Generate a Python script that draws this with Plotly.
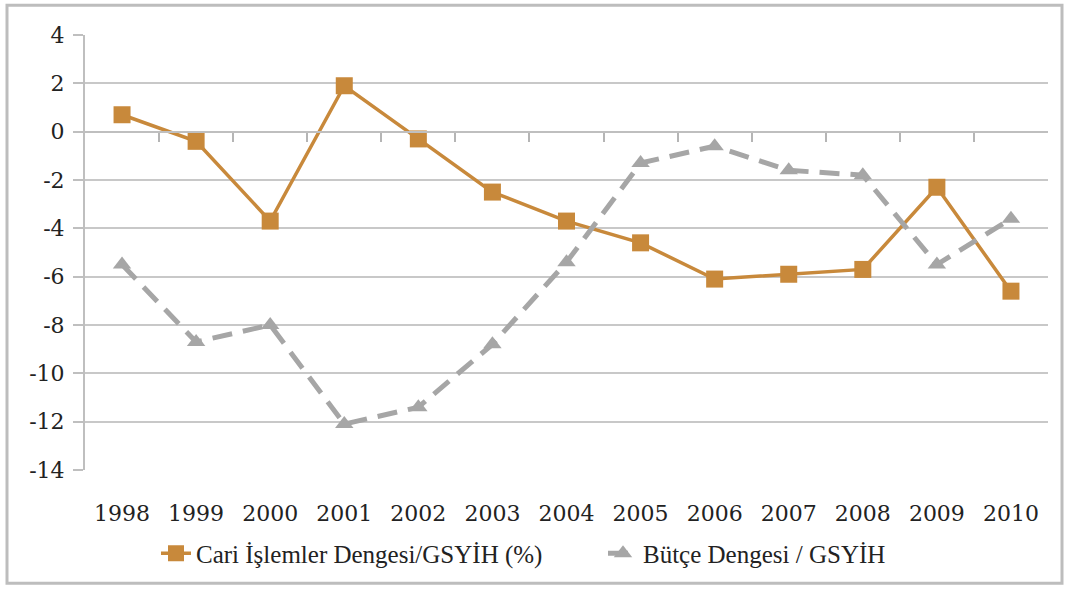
import plotly.graph_objects as go

years = ["1998", "1999", "2000", "2001", "2002", "2003", "2004",
         "2005", "2006", "2007", "2008", "2009", "2010"]
cari = [0.7, -0.4, -3.7, 1.9, -0.3, -2.5, -3.7, -4.6, -6.1, -5.9, -5.7, -2.3, -6.6]
butce = [-5.5, -8.7, -8.0, -12.1, -11.4, -8.8, -5.4, -1.3, -0.6, -1.6, -1.8, -5.5, -3.6]
y_ticks = [4, 2, 0, -2, -4, -6, -8, -10, -12, -14]
y_labels = ["4", "2", "0", "-2", "-4", "-6", "-8", "-10", "-12", "-14"]

x = list(range(len(years)))
ymin, ymax = -14, 4
orange = "#C8893B"
grey = "#A6A6A6"

W, H = 1067, 589
L, R, T, B = 85, 19, 35, 116
pw, ph = W - L - R, H - T - B

fig = go.Figure()
# helper trace to activate xaxis2 (zero-line category ticks), drawn first
fig.add_trace(go.Scatter(x=[x[0]], y=[0], xaxis="x2", mode="markers", marker=dict(opacity=0),
                         showlegend=False, hoverinfo="skip"))
fig.add_trace(go.Scatter(
    x=x, y=cari, mode="lines+markers", name="Cari İşlemler Dengesi/GSYİH (%)",
    line=dict(color=orange, width=3.5),
    marker=dict(symbol="square", size=17, color=orange),
))
fig.add_trace(go.Scatter(
    x=x, y=butce, mode="lines+markers", name="Bütçe Dengesi / GSYİH",
    line=dict(color=grey, width=5, dash="20px,11px"),
    marker=dict(symbol="triangle-up", size=16, color=grey),
))

tick_font = dict(family="DejaVu Serif", size=22, color="#222222")

fig.update_layout(
    width=W, height=H,
    margin=dict(l=L, r=R, t=T, b=B),
    paper_bgcolor="white", plot_bgcolor="white",
    showlegend=True,
    legend=dict(orientation="h", x=(156 - L) / pw, xanchor="left", y=-84 / ph, yanchor="middle",
                font=dict(family="Liberation Serif", size=25, color="#222222"),
                tracegroupgap=0, entrywidth=402, entrywidthmode="pixels"),
    xaxis=dict(
        range=[-0.5, len(years) - 0.5],
        tickmode="array", tickvals=x, ticktext=years,
        showgrid=False, zeroline=False, showline=False, ticks="",
        tickfont=tick_font, ticklabelstandoff=28,
    ),
    xaxis2=dict(
        range=[-0.5, len(years) - 0.5], overlaying="x", anchor="free",
        position=(0 - ymin) / (ymax - ymin), side="bottom",
        tickmode="array", tickvals=[i + 0.5 for i in x[:-1]],
        showticklabels=False, ticks="outside", ticklen=9, tickcolor="#B5B5B5", tickwidth=2,
        showline=True, linecolor="#BFBFBF", linewidth=2, showgrid=False, zeroline=False,
    ),
    yaxis=dict(
        range=[ymin, ymax], tickmode="array", tickvals=y_ticks, ticktext=y_labels,
        showgrid=True, gridcolor="#C8C8C8", gridwidth=1.5,
        zeroline=False, showline=True, linecolor="#BFBFBF", linewidth=2,
        ticks="outside", ticklen=10, tickcolor="#BFBFBF", tickwidth=2,
        tickfont=tick_font, ticklabelstandoff=4,
    ),
    shapes=[dict(type="rect", xref="paper", yref="paper",
                 x0=(7 - L) / pw, x1=(1062 - L) / pw,
                 y0=-(587 - (T + ph)) / ph, y1=1 + (T - 5) / ph,
                 line=dict(color="#BDBDBD", width=3), layer="below")],
)

fig.write_html("out.html", config={"displayModeBar": False})
with open("out.html", encoding="utf-8") as f:
    html = f.read()
html = html.replace("<body>", '<body style="margin:0">', 1)
with open("out.html", "w", encoding="utf-8") as f:
    f.write(html)
